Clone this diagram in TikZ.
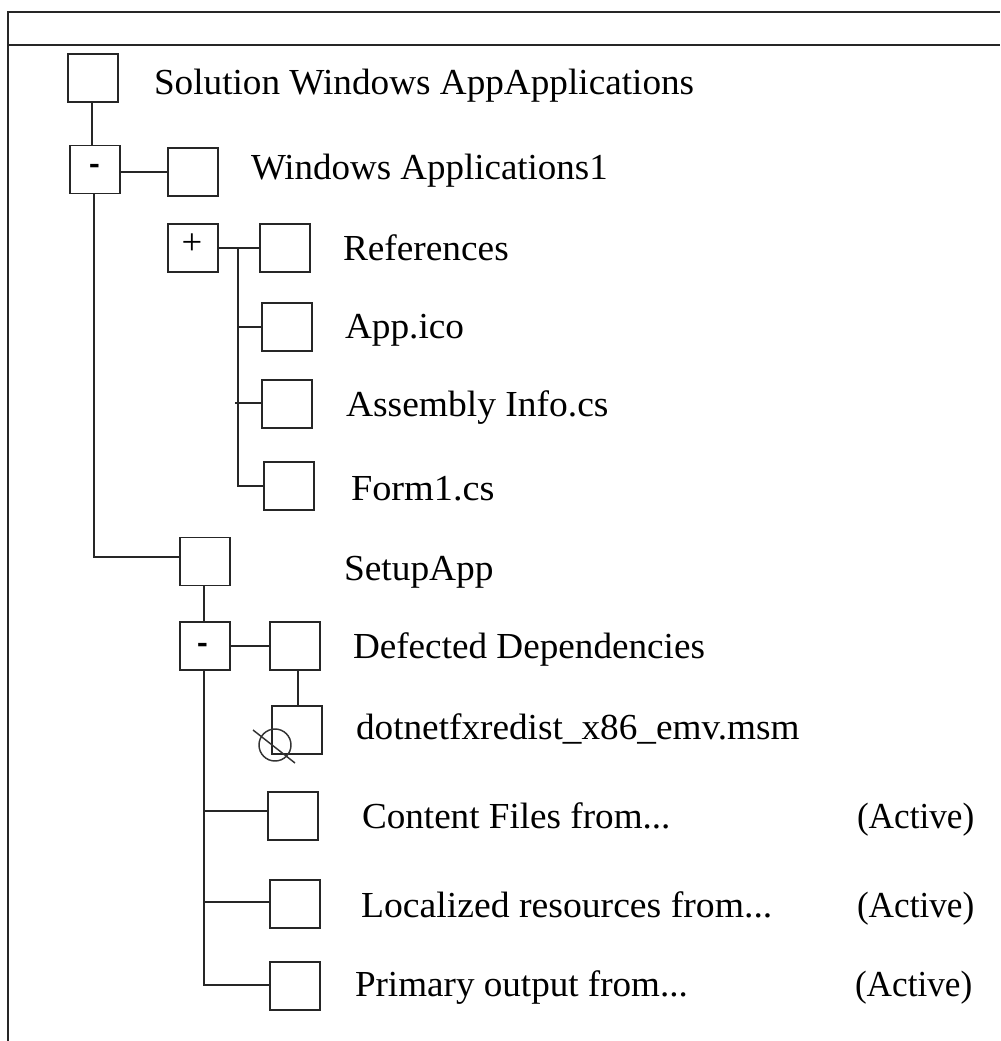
\documentclass[tikz,border=0pt]{standalone}
\usepackage{fontspec}
\setmainfont{Liberation Serif}
\tikzset{
  x=0.75pt,y=-0.75pt,
  line/.style={draw=black!85,line width=1.4pt},
  bx/.style={line,rectangle,fill=white,minimum width=37.5pt,minimum height=36pt,inner sep=0pt,outer sep=0pt},
  lbl/.style={anchor=base west,inner sep=0pt,outer sep=0pt,font=\fontsize{27.5}{30}\selectfont,text=black,transform shape,xscale=#1},
  lbl/.default=1,
  sign/.style={inner sep=0pt,outer sep=0pt,font=\fontsize{27.5}{30}\selectfont},
  hy/.style={inner sep=0pt,outer sep=0pt,font=\fontsize{30}{32}\selectfont\bfseries,transform shape,xscale=0.8},
}
\begin{document}
\begin{tikzpicture}
\useasboundingbox (0,0) rectangle (1000,1041);
% frame
\coordinate (fTL) at (8,12); \coordinate (fTR) at (1000,12);
\coordinate (fBL) at (8,1041);
\coordinate (fML) at (8,45); \coordinate (fMR) at (1000,45);
\draw[line] (fBL) -- (fTL) -- (fTR);
\draw[line] (fML) -- (fMR);
% junction coordinates
\coordinate (jA) at (94,557);
\coordinate (jB) at (238,248);
\coordinate (jC) at (238,486);
\coordinate (jD) at (235,403);
\coordinate (jE) at (204,985);
% boxes
\node[bx] (root) at (93,78) {};
\node[bx] (m1) at (95,169.5) {};
\node[bx] (win) at (193,172) {};
\node[bx] (plus) at (193,248) {};
\node[bx] (ref) at (285,248) {};
\node[bx] (app) at (287,327) {};
\node[bx] (asm) at (287,404) {};
\node[bx] (form) at (289,486) {};
\node[bx] (setup) at (205,561.5) {};
\node[bx] (m2) at (205,646) {};
\node[bx] (dd) at (295,646) {};
\node[bx] (dot) at (297,730) {};
\node[bx] (content) at (293,816) {};
\node[bx] (local) at (295,904) {};
\node[bx] (prim) at (295,986) {};
% connectors
\draw[line] ([xshift=-0.75pt]root.south) -- ([xshift=-0.75pt]root.south |- m1.north);
\draw[line] ([yshift=-1.9pt]m1.east) -- ([yshift=-1.9pt]m1.east -| win.west);
\draw[line] ([xshift=-0.75pt]m1.south) -- (jA) -- (jA -| setup.west);
\draw[line] (plus.east) -- (ref.west);
\draw[line] (jB) -- (jC) -- (form.west);
\draw[line] (jB |- app.west) -- (app.west);
\draw[line] (jD) -- (jD -| asm.west);
\draw[line] ([xshift=-0.75pt]setup.south) -- ([xshift=-0.75pt]setup.south |- m2.north);
\draw[line] (m2.east) -- (dd.west);
\draw[line] ([xshift=2.25pt]dd.south) -- ([xshift=2.25pt]dd.south |- dot.north);
\draw[line] ([xshift=-0.75pt]m2.south) -- (jE) -- (jE -| prim.west);
\draw[line] (jE |- content.west) ++(0,-5) -- ([yshift=3.75pt]content.west);
\draw[line] (jE |- local.west) ++(0,-2) -- ([yshift=1.5pt]local.west);
% signs
\node[hy] (s1) at (95,170) {-};
\node[sign] (s2) at (192,244) {+};
\node[hy] (s3) at (203,648.5) {-};
% no-entry symbol
\node[circle,draw=black!80,line width=1.1pt,minimum size=24pt,inner sep=0pt] (no) at (275,745) {};
\coordinate (noA) at (253,730); \coordinate (noB) at (295,763);
\draw[draw=black!80,line width=1.1pt] (noA) -- (noB);
% labels
\node[lbl=1.015] (t1) at (154,95) {Solution Windows AppApplications};
\node[lbl=1.008] (t2) at (251,180) {Windows Applications1};
\node[lbl=1.018] (t3) at (343,260) {References};
\node[lbl=1.017] (t4) at (345,338) {App.ico};
\node[lbl=1.023] (t5) at (346,416) {Assembly Info.cs};
\node[lbl=1.044] (t6) at (351,500) {Form1.cs};
\node[lbl=1.02] (t7) at (344,580) {SetupApp};
\node[lbl=1.014] (t8) at (353,658) {Defected Dependencies};
\node[lbl=1.016] (t9) at (356,739) {dotnetfxredist\_x86\_emv.msm};
\node[lbl=1.013] (t10) at (362,828) {Content Files from...};
\node[lbl=1.028] (t11) at (361,917) {Localized resources from...};
\node[lbl=1.012] (t12) at (355,996) {Primary output from...};
\node[lbl=0.96] (a1) at (857,828) {(Active)};
\node[lbl=0.96] (a2) at (857,917) {(Active)};
\node[lbl=0.96] (a3) at (855,996) {(Active)};
\end{tikzpicture}
\end{document}
